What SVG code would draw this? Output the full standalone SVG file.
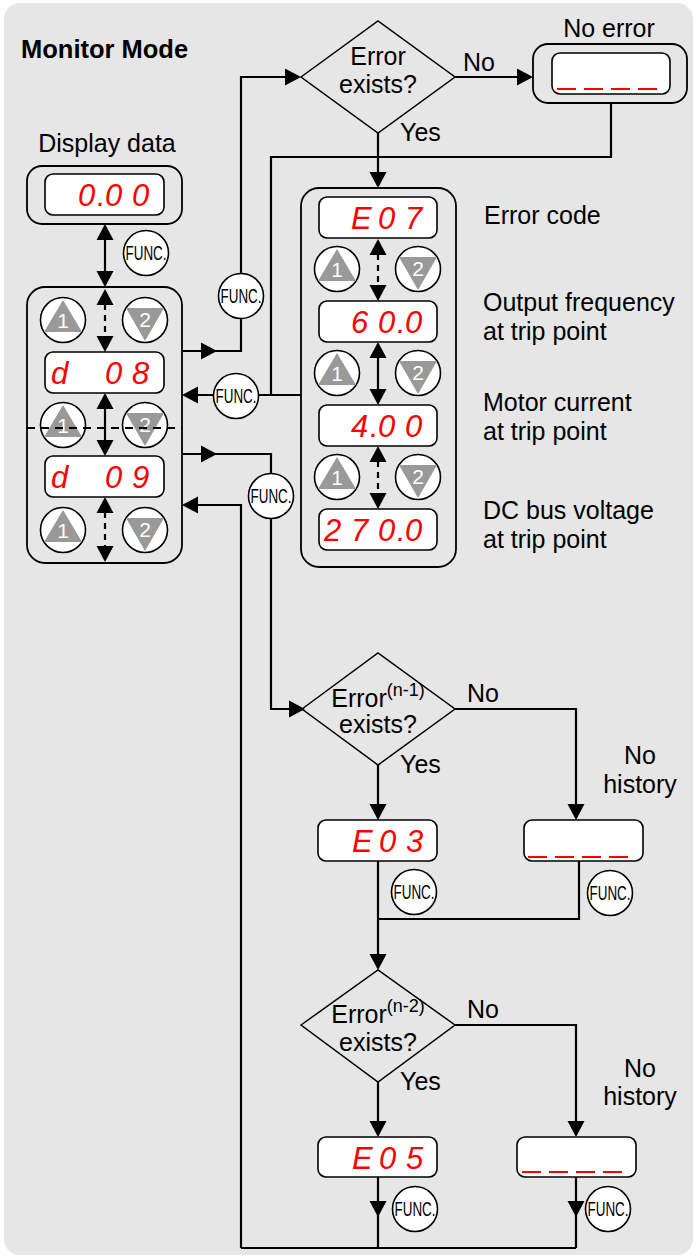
<svg xmlns="http://www.w3.org/2000/svg" xmlns:xlink="http://www.w3.org/1999/xlink" width="698" height="1257" viewBox="0 0 698 1257">
<defs>
<style>
.lbl{font-family:"Liberation Sans",Arial,sans-serif;font-size:25px;fill:#000}
.ttl{font-family:"Liberation Sans",Arial,sans-serif;font-size:25.5px;font-weight:bold;fill:#000}
.mid{text-anchor:middle}
.sup{font-size:18px}
.seg{font-family:"Liberation Sans",Arial,sans-serif;font-size:31px;font-style:italic;fill:#ff0000}
.func{font-family:"Liberation Sans",Arial,sans-serif;font-size:20px;fill:#000;text-anchor:middle}
.bn{font-family:"Liberation Sans",Arial,sans-serif;font-size:21px;fill:#fff;text-anchor:middle}
.outer{fill:none;stroke:#000;stroke-width:1.8}
.disp{fill:#fff;stroke:#000;stroke-width:1.6}
.btn{fill:#fff;stroke:#000;stroke-width:1.6}
.tri{fill:#999}
.ln{fill:none;stroke:#000;stroke-width:2.2}
.dsh{fill:none;stroke:#000;stroke-width:2.2;stroke-dasharray:6 5}
.hdash{fill:none;stroke:#000;stroke-width:2;stroke-dasharray:8 6}
.dia{fill:none;stroke:#000;stroke-width:1.5}
.red{fill:none;stroke:#ff0000;stroke-width:2}
</style>
<path id="ah" d="M0,0 L-16,-8.5 L-16,8.5 Z" fill="#000"/>
<g id="up"><circle r="22.5" class="btn"/><path d="M0,-20 L19,12 L-19,12 Z" class="tri"/></g>
<g id="dn"><circle r="22.5" class="btn"/><path d="M0,21 L19,-12 L-19,-12 Z" class="tri"/></g>
<circle id="fc" r="22.5" class="btn"/>
</defs>

<rect x="4" y="3" width="689" height="1252" rx="16" fill="#e6e6e6"/>

<g id="title"><text class="ttl" x="21" y="58">Monitor Mode</text></g>

<!-- connectors -->
<g id="connectors">
  <path class="ln" d="M105,226 V285"/>
  <use xlink:href="#ah" transform="translate(105,224) rotate(-90)"/>
  <use xlink:href="#ah" transform="translate(105,287) rotate(90)"/>

  <path class="dsh" d="M105,304 V337"/>
  <use xlink:href="#ah" transform="translate(105,289) rotate(-90)"/>
  <use xlink:href="#ah" transform="translate(105,352) rotate(90)"/>
  <path class="ln" d="M105,395 V454"/>
  <use xlink:href="#ah" transform="translate(105,393) rotate(-90)"/>
  <use xlink:href="#ah" transform="translate(105,456) rotate(90)"/>
  <path class="dsh" d="M105,512 V546"/>
  <use xlink:href="#ah" transform="translate(105,497) rotate(-90)"/>
  <use xlink:href="#ah" transform="translate(105,562) rotate(90)"/>

  <path class="dsh" d="M378,254 V286"/>
  <use xlink:href="#ah" transform="translate(378,239) rotate(-90)"/>
  <use xlink:href="#ah" transform="translate(378,301) rotate(90)"/>
  <path class="ln" d="M378,344 V403"/>
  <use xlink:href="#ah" transform="translate(378,342) rotate(-90)"/>
  <use xlink:href="#ah" transform="translate(378,405) rotate(90)"/>
  <path class="dsh" d="M378,461 V494"/>
  <use xlink:href="#ah" transform="translate(378,446) rotate(-90)"/>
  <use xlink:href="#ah" transform="translate(378,509) rotate(90)"/>

  <path class="ln" d="M182,351 H241 V318 M241,274 V77 H298"/>
  <use xlink:href="#ah" transform="translate(217,351)"/>
  <use xlink:href="#ah" transform="translate(301,77)"/>

  <path class="ln" d="M455,77 H531"/>
  <use xlink:href="#ah" transform="translate(533,77)"/>

  <path class="ln" d="M611,103 V157 H271 V395 M301,395 H258 M214,395 H186"/>
  <use xlink:href="#ah" transform="translate(182,395) rotate(180)"/>

  <path class="ln" d="M378,133 V186"/>
  <use xlink:href="#ah" transform="translate(378,188) rotate(90)"/>

  <path class="ln" d="M182,454 H271 V474 M271,518 V709 H302"/>
  <use xlink:href="#ah" transform="translate(217,454)"/>
  <use xlink:href="#ah" transform="translate(305,709)"/>

  <path class="ln" d="M455,709 H576 V818"/>
  <use xlink:href="#ah" transform="translate(576,820) rotate(90)"/>
  <path class="ln" d="M378,765 V818"/>
  <use xlink:href="#ah" transform="translate(378,820) rotate(90)"/>
  <path class="ln" d="M378,861 V968"/>
  <use xlink:href="#ah" transform="translate(378,970) rotate(90)"/>
  <path class="ln" d="M579,861 V919 H378"/>

  <path class="ln" d="M455,1025 H576 V1135"/>
  <use xlink:href="#ah" transform="translate(576,1137) rotate(90)"/>
  <path class="ln" d="M378,1082 V1135"/>
  <use xlink:href="#ah" transform="translate(378,1137) rotate(90)"/>

  <path class="ln" d="M378,1177 V1248 M576,1177 V1248 M241,1248 H576 M241,1248 V505 H186"/>
  <use xlink:href="#ah" transform="translate(378,1217) rotate(90)"/>
  <use xlink:href="#ah" transform="translate(576,1217) rotate(90)"/>
  <use xlink:href="#ah" transform="translate(182,505) rotate(180)"/>
</g>

<!-- FUNC keys -->
<g id="func1"><use xlink:href="#fc" x="146" y="253"/><text class="func" x="146" y="260" textLength="41" lengthAdjust="spacingAndGlyphs">FUNC.</text></g>
<g id="func2"><use xlink:href="#fc" x="241" y="296"/><text class="func" x="241" y="303" textLength="41" lengthAdjust="spacingAndGlyphs">FUNC.</text></g>
<g id="func3"><use xlink:href="#fc" x="236" y="396"/><text class="func" x="236" y="403" textLength="41" lengthAdjust="spacingAndGlyphs">FUNC.</text></g>
<g id="func4"><use xlink:href="#fc" x="271" y="496"/><text class="func" x="271" y="503" textLength="41" lengthAdjust="spacingAndGlyphs">FUNC.</text></g>
<g id="func5"><use xlink:href="#fc" x="414" y="892"/><text class="func" x="414" y="899" textLength="41" lengthAdjust="spacingAndGlyphs">FUNC.</text></g>
<g id="func6"><use xlink:href="#fc" x="610" y="893"/><text class="func" x="610" y="900" textLength="41" lengthAdjust="spacingAndGlyphs">FUNC.</text></g>
<g id="func7"><use xlink:href="#fc" x="415" y="1209"/><text class="func" x="415" y="1216" textLength="41" lengthAdjust="spacingAndGlyphs">FUNC.</text></g>
<g id="func8"><use xlink:href="#fc" x="608" y="1209"/><text class="func" x="608" y="1216" textLength="41" lengthAdjust="spacingAndGlyphs">FUNC.</text></g>

<!-- Display data -->
<g id="display-data">
  <text class="lbl mid" x="107" y="152">Display data</text>
  <rect class="outer" x="27" y="166" width="155" height="58" rx="15"/>
  <rect class="disp" x="45" y="174" width="119" height="41" rx="8"/>
  <text class="seg" x="78 97 105 132" y="206">0.00</text>
</g>

<!-- Left panel -->
<g id="left-panel">
  <rect class="outer" x="27" y="287" width="155" height="276" rx="18"/>
  <rect class="disp" x="45" y="352" width="119" height="41" rx="8"/>
  <text class="seg" x="51 78 105 132" y="384">d 08</text>
  <rect class="disp" x="45" y="456" width="119" height="41" rx="8"/>
  <text class="seg" x="51 78 105 132" y="488">d 09</text>
  <use xlink:href="#up" x="63" y="320"/><text class="bn" x="63" y="328">1</text>
  <use xlink:href="#dn" x="145" y="320"/><text class="bn" x="145" y="327">2</text>
  <use xlink:href="#up" x="63" y="425"/><text class="bn" x="63" y="433">1</text>
  <use xlink:href="#dn" x="145" y="425"/><text class="bn" x="145" y="432">2</text>
  <use xlink:href="#up" x="63" y="530"/><text class="bn" x="63" y="538">1</text>
  <use xlink:href="#dn" x="145" y="530"/><text class="bn" x="145" y="537">2</text>
  <path class="hdash" d="M27,428 H182"/>
</g>

<!-- Error check -->
<g id="error-exists">
  <path class="dia" d="M301,77 L378,21 L455,77 L378,133 Z"/>
  <text class="lbl mid" x="378" y="65">Error</text>
  <text class="lbl mid" x="378" y="93">exists?</text>
  <text class="lbl" x="463" y="71">No</text>
  <text class="lbl" x="400" y="141">Yes</text>
</g>

<g id="no-error">
  <text class="lbl mid" x="609" y="37">No error</text>
  <rect class="outer" x="533" y="44" width="154" height="59" rx="15"/>
  <rect class="disp" x="552" y="53" width="118" height="41" rx="8"/>
  <path class="red" d="M557,89 h19 M584,89 h19 M611,89 h19 M638,89 h19"/>
</g>

<!-- Right panel -->
<g id="right-panel">
  <rect class="outer" x="301" y="188" width="155" height="379" rx="18"/>
  <rect class="disp" x="319" y="197" width="118" height="41" rx="8"/>
  <text class="seg" x="351 378 405" y="229">E07</text>
  <rect class="disp" x="319" y="301" width="118" height="41" rx="8"/>
  <text class="seg" x="351 378 397 405" y="333">60.0</text>
  <rect class="disp" x="319" y="405" width="118" height="41" rx="8"/>
  <text class="seg" x="351 370 378 405" y="437">4.00</text>
  <rect class="disp" x="319" y="509" width="118" height="41" rx="8"/>
  <text class="seg" x="324 351 378 397 405" y="541">270.0</text>
  <use xlink:href="#up" x="337" y="269"/><text class="bn" x="337" y="277">1</text>
  <use xlink:href="#dn" x="418" y="269"/><text class="bn" x="418" y="276">2</text>
  <use xlink:href="#up" x="337" y="373"/><text class="bn" x="337" y="381">1</text>
  <use xlink:href="#dn" x="418" y="373"/><text class="bn" x="418" y="380">2</text>
  <use xlink:href="#up" x="337" y="477"/><text class="bn" x="337" y="485">1</text>
  <use xlink:href="#dn" x="418" y="477"/><text class="bn" x="418" y="484">2</text>
</g>

<g id="right-labels">
  <text class="lbl" x="484" y="224">Error code</text>
  <text class="lbl"><tspan x="483" y="311">Output frequency</tspan><tspan x="483" y="339.5">at trip point</tspan></text>
  <text class="lbl"><tspan x="483" y="411">Motor current</tspan><tspan x="483" y="439.5">at trip point</tspan></text>
  <text class="lbl"><tspan x="483" y="519">DC bus voltage</tspan><tspan x="483" y="547.5">at trip point</tspan></text>
</g>

<!-- History 1 -->
<g id="error-n1">
  <path class="dia" d="M302,709 L378,653 L455,709 L378,765 Z"/>
  <text class="lbl mid" x="378" y="707">Error<tspan class="sup" dy="-11">(n-1)</tspan></text>
  <text class="lbl mid" x="378" y="733">exists?</text>
  <text class="lbl" x="467" y="702">No</text>
  <text class="lbl" x="400" y="773">Yes</text>
</g>
<g id="e03">
  <rect class="disp" x="318" y="820" width="119" height="41" rx="8"/>
  <text class="seg" x="352 379 406" y="852">E03</text>
</g>
<g id="no-history-1">
  <text class="lbl mid" x="640" y="764">No</text>
  <text class="lbl mid" x="640" y="793">history</text>
  <rect class="disp" x="524" y="820" width="119" height="41" rx="8"/>
  <path class="red" d="M528,857 h19 M555,857 h19 M582,857 h19 M609,857 h19"/>
</g>

<!-- History 2 -->
<g id="error-n2">
  <path class="dia" d="M301,1025 L378,970 L455,1025 L378,1082 Z"/>
  <text class="lbl mid" x="378" y="1023">Error<tspan class="sup" dy="-11">(n-2)</tspan></text>
  <text class="lbl mid" x="378" y="1051">exists?</text>
  <text class="lbl" x="467" y="1018">No</text>
  <text class="lbl" x="400" y="1090">Yes</text>
</g>
<g id="e05">
  <rect class="disp" x="318" y="1137" width="119" height="40" rx="8"/>
  <text class="seg" x="352 379 406" y="1169">E05</text>
</g>
<g id="no-history-2">
  <text class="lbl mid" x="640" y="1077">No</text>
  <text class="lbl mid" x="640" y="1105">history</text>
  <rect class="disp" x="517" y="1137" width="119" height="40" rx="8"/>
  <path class="red" d="M522,1172 h19 M549,1172 h19 M576,1172 h19 M603,1172 h19"/>
</g>
</svg>
